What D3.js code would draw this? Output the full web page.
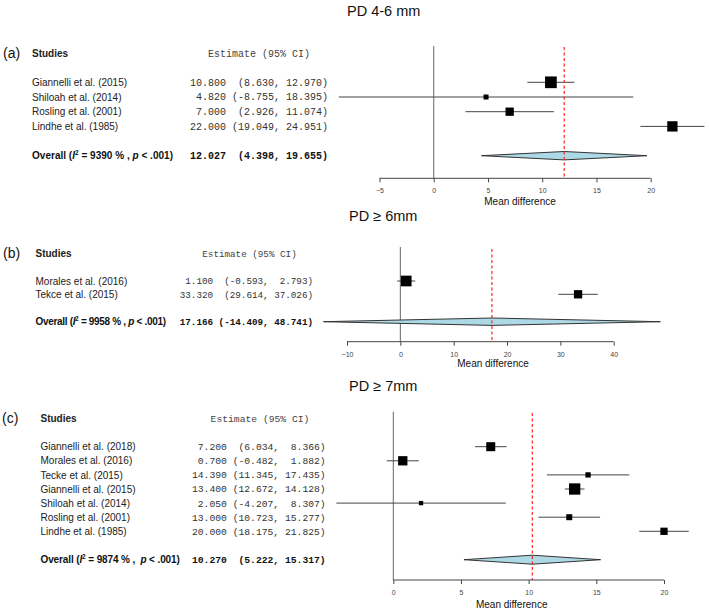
<!DOCTYPE html>
<html><head><meta charset="utf-8">
<script src="https://cdn.jsdelivr.net/npm/d3@7"></script>
<style>body{margin:0;background:#fff} svg{display:block}</style>
</head><body>
<svg id="chart" width="709" height="611"></svg>
<script>
// ---------- DATA ----------
const panelTitles = ["PD 4-6 mm", "PD \u2265 6mm", "PD \u2265 7mm"];
const panelLetters = ["(a)", "(b)", "(c)"];

// Panel (a) PD 4-6 mm
const studiesA = ["Giannelli et al. (2015)", "Shiloah et al. (2014)", "Rosling et al. (2001)", "Lindhe et al. (1985)"];
const estA   = [10.800, 4.820, 7.000, 22.000];
const lowerA = [8.630, -8.755, 2.926, 19.049];
const upperA = [12.970, 18.395, 11.074, 24.951];
const weightsA = [11.7, 5.0, 8.3, 10.3];
const overallA = [12.027, 4.398, 19.655];
const i2A = "9390";
const ticksA = [-5, 0, 5, 10, 15, 20];

// Panel (b) PD >= 6mm
const studiesB = ["Morales et al. (2016)", "Tekce et al. (2015)"];
const estB   = [1.100, 33.320];
const lowerB = [-0.593, 29.614];
const upperB = [2.793, 37.026];
const weightsB = [10.7, 8.3];
const overallB = [17.166, -14.409, 48.741];
const i2B = "9958";
const ticksB = [-10, 0, 10, 20, 30, 40];

// Panel (c) PD >= 7mm
const studiesC = ["Giannelli et al. (2018)", "Morales et al. (2016)", "Tecke et al. (2015)", "Giannelli et al. (2015)", "Shiloah et al. (2014)", "Rosling et al. (2001)", "Lindhe et al. (1985)"];
const estC   = [7.200, 0.700, 14.390, 13.400, 2.050, 13.000, 20.000];
const lowerC = [6.034, -0.482, 11.345, 12.672, -4.207, 10.723, 18.175];
const upperC = [8.366, 1.882, 17.435, 14.128, 8.307, 15.277, 21.825];
const weightsC = [9.0, 9.3, 5.3, 11.3, 4.3, 6.0, 7.3];
const overallC = [10.270, 5.222, 15.317];
const i2C = "9874";
const ticksC = [0, 5, 10, 15, 20];

// ---------- DRAW ----------
const svg = d3.select("#chart");
const SANS = "'Liberation Sans', Arial, Helvetica, sans-serif";
const MONO = "'Liberation Mono', 'Courier New', monospace";
const sizeScale = d3.scaleLinear().domain([0, 12]).range([0, 12]);

function fmtRows(est, lo, hi) {
  const e = est.map(v => v.toFixed(3));
  const l = lo.map(v => "(" + v.toFixed(3) + ",");
  const h = hi.map(v => v.toFixed(3) + ")");
  const we = d3.max(e, s => s.length), wl = d3.max(l, s => s.length), wh = d3.max(h, s => s.length);
  return e.map((s, i) => s.padStart(we) + " " + l[i].padStart(wl) + " " + h[i].padStart(wh));
}

function drawPanel(p, L) {
  const g = svg.append("g");
  const x = d3.scaleLinear().domain(L.domain).range(L.range);
  const rowsY = p.studies.map((s, i) => L.row0 + i * L.step);

  // title
  g.append("text").attr("x", L.titleX).attr("y", L.titleY)
    .attr("font-family", SANS).attr("font-size", 14.5).attr("fill", "#111").text(p.title);
  // panel letter
  g.append("text").attr("x", L.letterX).attr("y", L.headerY + 5)
    .attr("font-family", SANS).attr("font-size", 14).attr("fill", "#111").text(p.letter);
  // headers
  g.append("text").attr("x", L.nameX).attr("y", L.headerY + 3.5)
    .attr("font-family", SANS).attr("font-size", 10).attr("font-weight", "bold").attr("fill", "#222").text("Studies");
  g.append("text").attr("x", L.monoCenter).attr("y", L.headerY + 3.5).attr("text-anchor", "middle")
    .attr("font-family", MONO).attr("font-size", L.monoSize).attr("fill", "#444").text("Estimate (95% CI)");

  // study names
  g.selectAll(".nm").data(p.studies).enter().append("text")
    .attr("x", L.nameX).attr("y", (d, i) => rowsY[i] + 3.6)
    .attr("font-family", SANS).attr("font-size", 10).attr("fill", "#222").text(d => d);

  // estimate strings
  const all = fmtRows(p.est.concat([p.overall[0]]), p.lo.concat([p.overall[1]]), p.hi.concat([p.overall[2]]));
  g.selectAll(".es").data(all.slice(0, p.studies.length)).enter().append("text")
    .attr("x", L.monoRight).attr("y", (d, i) => rowsY[i] + 3.4).attr("text-anchor", "end")
    .style("white-space", "pre")
    .attr("font-family", MONO).attr("font-size", L.monoSize).attr("fill", "#333").text(d => d);
  g.append("text").attr("x", L.monoRight).attr("y", L.overallY + 3.4).attr("text-anchor", "end")
    .style("white-space", "pre").attr("font-weight", "bold")
    .attr("font-family", MONO).attr("font-size", L.monoSize).attr("fill", "#111").text(all[all.length - 1]);

  // overall label
  const ol = g.append("text").attr("x", L.nameX).attr("y", L.overallY + 3.6)
    .attr("font-family", SANS).attr("font-size", 10).attr("font-weight", "bold").attr("fill", "#111")
    .attr("textLength", L.olWidth).attr("lengthAdjust", "spacing")
    .style("white-space", "pre");
  ol.append("tspan").text("Overall (");
  ol.append("tspan").attr("font-style", "italic").text("I");
  ol.append("tspan").attr("font-size", 6.5).attr("dy", -4).text("2");
  ol.append("tspan").attr("dy", 4).text(L.eqText.replace("#", p.i2));
  ol.append("tspan").attr("font-style", "italic").text("p");
  ol.append("tspan").text(" < .001)");

  // zero line
  g.append("line").attr("x1", x(0)).attr("x2", x(0)).attr("y1", L.zeroTop).attr("y2", L.axisY)
    .attr("stroke", "#666").attr("stroke-width", 1);

  // CI lines
  g.selectAll(".ci").data(p.est).enter().append("line")
    .attr("x1", (d, i) => x(p.lo[i])).attr("x2", (d, i) => x(p.hi[i]))
    .attr("y1", (d, i) => rowsY[i]).attr("y2", (d, i) => rowsY[i])
    .attr("stroke", "#444").attr("stroke-width", 1);

  // squares
  g.selectAll(".sq").data(p.est).enter().append("rect")
    .attr("x", (d, i) => x(d) - sizeScale(p.w[i]) / 2)
    .attr("y", (d, i) => rowsY[i] - sizeScale(p.w[i]) / 2)
    .attr("width", (d, i) => sizeScale(p.w[i])).attr("height", (d, i) => sizeScale(p.w[i]))
    .attr("fill", "#000");

  // diamond
  const [oe, olo, ohi] = p.overall;
  const yd = L.overallY, hd = L.diamondH;
  g.append("path")
    .attr("d", `M${x(olo)},${yd} L${x(oe)},${yd - hd} L${x(ohi)},${yd} L${x(oe)},${yd + hd} Z`)
    .attr("fill", "#add8e6").attr("stroke", "#333").attr("stroke-width", 1);

  // red dashed line
  g.append("line").attr("x1", x(oe)).attr("x2", x(oe)).attr("y1", L.redTop).attr("y2", L.axisY)
    .attr("stroke", "#ff2020").attr("stroke-width", 1.2).attr("stroke-dasharray", "3,2.5");

  // axis
  const axis = d3.axisBottom(x).tickValues(p.ticks).tickSize(4).tickSizeOuter(0).tickFormat(d3.format("d"));
  const ag = g.append("g").attr("transform", `translate(0,${L.axisY})`).call(axis);
  ag.select(".domain").attr("stroke", "#444").attr("stroke-width", 1)
    .attr("d", `M${x(p.ticks[0])},0H${x(p.ticks[p.ticks.length - 1])}`);
  ag.selectAll(".tick line").attr("stroke", "#444");
  ag.selectAll(".tick text").attr("font-family", SANS).attr("font-size", 7).attr("fill", "#444").attr("dy", 0).attr("y", 15);

  g.append("text").attr("x", L.xlabX).attr("y", L.axisY + L.xlabDy).attr("text-anchor", "middle")
    .attr("font-family", SANS).attr("font-size", 10).attr("fill", "#111").text("Mean difference");
}

drawPanel({title: panelTitles[0], letter: panelLetters[0], studies: studiesA, est: estA, lo: lowerA, hi: upperA, w: weightsA, overall: overallA, i2: i2A, ticks: ticksA},
  {domain: [-5, 20], range: [379.5, 650.7], titleX: 347, titleY: 16, letterX: 3, headerY: 53, nameX: 32,
   monoSize: 10, monoRight: 328, monoCenter: 259, row0: 82.3, step: 14.7, overallY: 155.7, axisY: 178.3,
   zeroTop: 46, redTop: 47, diamondH: 4.2, xlabX: 520, xlabDy: 27, eqText: " = # % , ", olWidth: 141});

drawPanel({title: panelTitles[1], letter: panelLetters[1], studies: studiesB, est: estB, lo: lowerB, hi: upperB, w: weightsB, overall: overallB, i2: i2B, ticks: ticksB},
  {domain: [-10, 40], range: [347, 613.7], titleX: 349, titleY: 221, letterX: 3, headerY: 253, nameX: 35.5,
   monoSize: 9.25, monoRight: 313, monoCenter: 249.5, row0: 281, step: 13.3, overallY: 321.7, axisY: 341.7,
   zeroTop: 247, redTop: 249, diamondH: 3.7, xlabX: 493, xlabDy: 25, eqText: " = # % , ", olWidth: 130.5});

drawPanel({title: panelTitles[2], letter: panelLetters[2], studies: studiesC, est: estC, lo: lowerC, hi: upperC, w: weightsC, overall: overallC, i2: i2C, ticks: ticksC},
  {domain: [0, 20], range: [393.3, 664], titleX: 349, titleY: 391, letterX: 2, headerY: 418, nameX: 40.5,
   monoSize: 9.7, monoRight: 325.7, monoCenter: 260, row0: 446.7, step: 14.1, overallY: 559.7, axisY: 580,
   zeroTop: 411.7, redTop: 413, diamondH: 4.5, xlabX: 511.7, xlabDy: 27.5, eqText: " = # % ,  ", olWidth: 139.3});
</script>
</body></html>
